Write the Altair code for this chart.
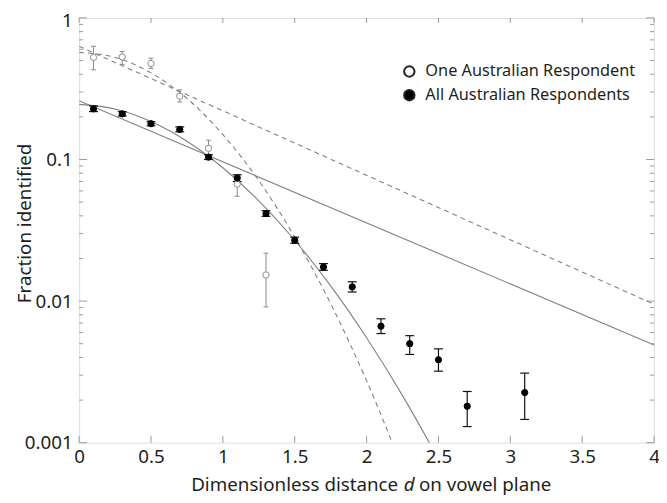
import altair as alt
import pandas as pd

ONE = "One Australian Respondent"
ALL = "All Australian Respondents"

# --- data ---
one_d = [0.1, 0.3, 0.5, 0.7, 0.9, 1.1, 1.3]
one_y = [0.526, 0.53, 0.477, 0.28, 0.12, 0.067, 0.0153]
one_lo = [0.43, 0.47, 0.44, 0.255, 0.104, 0.055, 0.0091]
one_hi = [0.63, 0.58, 0.52, 0.31, 0.137, 0.078, 0.0218]

all_d = [0.1, 0.3, 0.5, 0.7, 0.9, 1.1, 1.3, 1.5, 1.7, 1.9, 2.1, 2.3, 2.5, 2.7, 3.1]
all_y = [0.228, 0.21, 0.179, 0.163, 0.104, 0.074, 0.0415, 0.0269, 0.0174, 0.0126,
         0.00665, 0.0050, 0.00385, 0.00181, 0.00226]
all_lo = [0.218, 0.203, 0.173, 0.157, 0.100, 0.070, 0.0397, 0.0256, 0.0165, 0.0116,
          0.0059, 0.0042, 0.0032, 0.0013, 0.00146]
all_hi = [0.239, 0.218, 0.185, 0.170, 0.108, 0.078, 0.0435, 0.0283, 0.0184, 0.0137,
          0.0075, 0.0057, 0.0046, 0.0023, 0.0031]

# fitted curves
exp_all_d = [0, 4]
exp_all_y = [0.26, 0.0049]
gau_all_d = [0, 0.25, 0.5, 0.75, 1.0, 1.25, 1.5, 1.75, 2.0, 2.25, 2.5, 2.6]
gau_all_y = [0.245, 0.2275, 0.1854, 0.1346, 0.0875, 0.0511, 0.0269, 0.0128,
             0.00551, 0.00215, 0.00076, 0.00049]
exp_one_d = [0, 4]
exp_one_y = [0.63, 0.0095]
gau_one_d = [0, 0.25, 0.5, 0.75, 1.0, 1.25, 1.5, 1.75, 2.0, 2.25]
gau_one_y = [0.571, 0.526, 0.409, 0.270, 0.150, 0.071, 0.0283, 0.0096, 0.00274, 0.00066]

# axis ticks
x_ticks = [0, 0.5, 1, 1.5, 2, 2.5, 3, 3.5, 4]
y_major = [0.001, 0.01, 0.1, 1]
y_minor = [m * 10.0 ** e for e in (-3, -2, -1) for m in range(2, 10)]

x_title_parts = ["Dimensionless distance", "d", "on vowel plane"]
y_title = "Fraction identified"

W, H = 582, 430
FONT = "Noto Sans"
TXT = "#231f20"
AX = "#999999"
LINE = "#808080"

xscale = alt.Scale(domain=[0, 4], nice=False, zero=False)
yscale = alt.Scale(type="log", domain=[0.001, 1], nice=False)
xaxis = alt.Axis(values=x_ticks, format="~g", ticks=False, domain=False, grid=False,
                 labelPadding=5, labelFontSize=19, labelFont=FONT, labelColor=TXT,
                 labelFlush=False, title=None)
yaxis = alt.Axis(values=y_major, format="~g", ticks=False, domain=False, grid=False,
                 labelPadding=7, labelFontSize=19, labelFont=FONT, labelColor=TXT,
                 labelFlush=False, title=None,
                 labelOffset=alt.condition("datum.value == 1", alt.value(3), alt.value(0)))

X = lambda f="d": alt.X(f"{f}:Q", scale=xscale, axis=xaxis)
Y = lambda f="y": alt.Y(f"{f}:Q", scale=yscale, axis=yaxis)


def line(d, y, dash=None):
    kw = dict(color=LINE, strokeWidth=1.1, clip=True, interpolate="monotone")
    if dash:
        kw["strokeDash"] = dash
    return alt.Chart(pd.DataFrame({"d": d, "y": y})).mark_line(**kw).encode(x=X(), y=Y())


lines = [
    line(exp_all_d, exp_all_y),
    line(gau_all_d, gau_all_y),
    line(exp_one_d, exp_one_y, [5, 4]),
    line(gau_one_d, gau_one_y, [5, 4]),
]

one_df = pd.DataFrame({"d": one_d, "y": one_y, "lo": one_lo, "hi": one_hi, "series": ONE})
all_df = pd.DataFrame({"d": all_d, "y": all_y, "lo": all_lo, "hi": all_hi, "series": ALL})


def errbars(df, color, capsize, width):
    bar = alt.Chart(df).mark_rule(color=color, strokeWidth=width).encode(
        x=X(), y=Y("lo"), y2="hi:Q")
    cap_lo = alt.Chart(df).mark_point(shape="M-1,0L1,0", size=capsize, filled=False,
                                      color=color, strokeWidth=width, opacity=1).encode(x=X(), y=Y("lo"))
    cap_hi = alt.Chart(df).mark_point(shape="M-1,0L1,0", size=capsize, filled=False,
                                      color=color, strokeWidth=width, opacity=1).encode(x=X(), y=Y("hi"))
    return [bar, cap_lo, cap_hi]


bars = errbars(one_df, "#8a8a8a", 25, 1) + errbars(all_df, "#111111", 81, 1.2)

legend = alt.Legend(
    title=None, orient="none", legendX=326, legendY=46,
    symbolType="circle", symbolSize=110,
    symbolStrokeColor="#222222", symbolStrokeWidth=2,
    labelFontSize=16.5, labelFont=FONT, labelColor=TXT, labelLimit=0,
    labelOffset=8, rowPadding=5, padding=0,
)

pts_df = pd.concat([one_df, all_df], ignore_index=True)
points = alt.Chart(pts_df).mark_point(shape="circle", size=40, strokeWidth=1, opacity=1,
                                      filled=False).encode(
    x=X(), y=Y(),
    fill=alt.Fill("series:N", scale=alt.Scale(domain=[ONE, ALL], range=["white", "black"]),
                  legend=legend),
    stroke=alt.condition(alt.datum.series == ONE, alt.value("#8a8a8a"), alt.value("black")),
)

# inward ticks on all four sides
ymaj = pd.DataFrame({"y": y_major})
ymin = pd.DataFrame({"y": y_minor})
xt = pd.DataFrame({"d": x_ticks})
ticks = [
    alt.Chart(ymaj).mark_rule(color=AX).encode(y=Y(), x=alt.value(0), x2=alt.value(8)),
    alt.Chart(ymin).mark_rule(color=AX).encode(y=Y(), x=alt.value(0), x2=alt.value(4)),
    alt.Chart(ymaj).mark_rule(color=AX).encode(y=Y(), x=alt.value(W), x2=alt.value(W - 8)),
    alt.Chart(ymin).mark_rule(color=AX).encode(y=Y(), x=alt.value(W), x2=alt.value(W - 4)),
    alt.Chart(xt).mark_rule(color=AX).encode(x=X(), y=alt.value(H), y2=alt.value(H - 7)),
    alt.Chart(xt).mark_rule(color=AX).encode(x=X(), y=alt.value(0), y2=alt.value(5)),
]

# axis titles
tdf = pd.DataFrame({"t": x_title_parts})
TY = 473
xt1 = alt.Chart(tdf.iloc[[0]]).mark_text(align="right", baseline="middle", fontSize=19,
                                         font=FONT, color=TXT).encode(
    text="t:N", x=alt.value(323), y=alt.value(TY))
xt2 = alt.Chart(tdf.iloc[[1]]).mark_text(align="center", baseline="middle", fontSize=19,
                                         font=FONT, fontStyle="italic", color=TXT).encode(
    text="t:N", x=alt.value(334), y=alt.value(TY))
xt3 = alt.Chart(tdf.iloc[[2]]).mark_text(align="left", baseline="middle", fontSize=19,
                                         font=FONT, color=TXT).encode(
    text="t:N", x=alt.value(344), y=alt.value(TY))
yt = alt.Chart(pd.DataFrame({"t": [y_title]})).mark_text(
    align="center", baseline="middle", angle=270, fontSize=19, font=FONT, color=TXT).encode(
    text="t:N", x=alt.value(-55), y=alt.value(208))

chart = alt.layer(*lines, *bars, points, *ticks, xt1, xt2, xt3, yt).properties(
    width=W, height=H,
    padding={"left": 72, "top": 7, "right": 5, "bottom": 58},
    autosize=alt.AutoSizeParams(type="none"),
).configure_view(stroke=AX, strokeWidth=1).configure(background="white")

chart.save("out.html", embed_options={"renderer": "svg", "actions": False})
